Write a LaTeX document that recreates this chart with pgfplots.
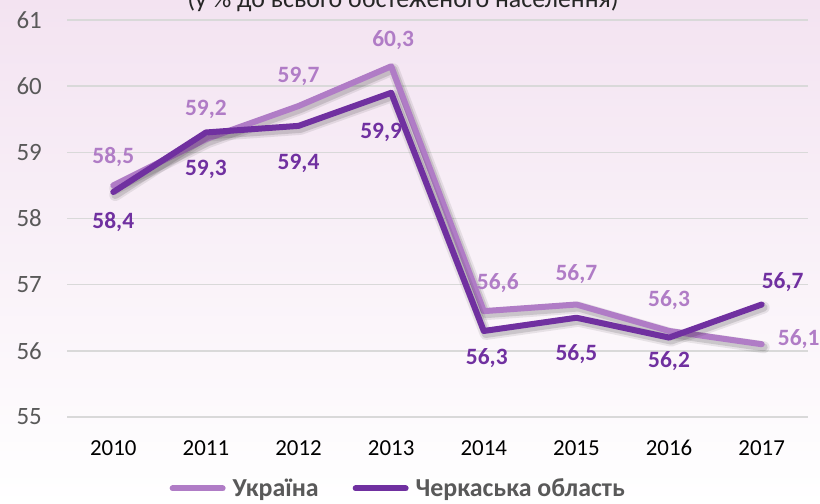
\documentclass[border=0pt]{standalone}
\usepackage{pgfplots}
\pgfplotsset{compat=1.18}
\usepackage{fontspec}
\setmainfont{Carlito}

\definecolor{ukr}{HTML}{B07CC6}
\definecolor{che}{HTML}{7030A0}
\definecolor{bgtop}{HTML}{F3E3F1}
\definecolor{tickc}{HTML}{595959}
\definecolor{gridc}{HTML}{D9D9D9}

% label style: colour, anchor, dx, dy (bp)
\pgfplotsset{
  lab/.style n args={4}{
    draw=none, forget plot,
    nodes near coords,
    point meta=explicit symbolic,
    nodes near coords style={anchor=#2, xshift=#3bp, yshift=#4bp, inner sep=0pt,
        font=\bfseries\fontsize{23.5}{28}\selectfont, text=#1}},
  shadow/.style={black, opacity=#1, line cap=round, line join=round,
    xshift=2bp, yshift=-3bp, forget plot},
  ser/.style={#1, line width=6bp, line cap=round, line join=round, forget plot},
}

\begin{document}
\begin{tikzpicture}
\useasboundingbox (0,0) rectangle (820bp,504bp);
\shade[top color=bgtop, bottom color=white] (0,0) rectangle (820bp,504bp);
\node[anchor=base, font=\fontsize{26}{31}\selectfont, text=black!85] at (403bp,496bp)
  {(у \% до всього обстеженого населення)};

\begin{axis}[
    at={(67bp,87bp)}, anchor=south west,
    width=741bp, height=397bp, scale only axis,
    clip=false,
    xmin=-0.5, xmax=7.5,
    ymin=55, ymax=61,
    xtick={0,...,7},
    xticklabels={2010,2011,2012,2013,2014,2015,2016,2017},
    ytick={55,...,61},
    ymajorgrids,
    grid style={gridc, line width=1.5bp},
    axis line style={draw=none},
    major tick length=0pt,
    /pgf/number format/assume math mode=true,
    yticklabel style={font=\fontsize{25}{30}\selectfont, text=tickc, inner sep=0pt, xshift=-25bp},
    xticklabel style={font=\fontsize{23}{28}\selectfont, text=black, inner sep=0pt, yshift=-23bp},
    legend style={at={(0.447,-0.180)}, anchor=center, draw=none, fill=none,
        legend columns=2, font=\bfseries\fontsize{26}{31}\selectfont, text=tickc,
        /tikz/every odd column/.append style={column sep=5bp},
        /tikz/every even column/.append style={column sep=32bp},
        inner sep=0pt},
    legend image code/.code={\draw[line width=6bp, line cap=round] (0bp,0bp) -- (50bp,0bp);},
]
\addlegendimage{ukr}
\addlegendentry{Україна}
\addlegendimage{che}
\addlegendentry{Черкаська область}

% Україна
\addplot[shadow=0.08, line width=12bp] coordinates {(0,58.5) (1,59.2) (2,59.7) (3,60.3) (4,56.6) (5,56.7) (6,56.3) (7,56.1)};
\addplot[shadow=0.12, line width=8bp] coordinates {(0,58.5) (1,59.2) (2,59.7) (3,60.3) (4,56.6) (5,56.7) (6,56.3) (7,56.1)};
\addplot[ser=ukr] coordinates {(0,58.5) (1,59.2) (2,59.7) (3,60.3) (4,56.6) (5,56.7) (6,56.3) (7,56.1)};

% Черкаська область
\addplot[shadow=0.08, line width=12bp] coordinates {(0,58.4) (1,59.3) (2,59.4) (3,59.9) (4,56.3) (5,56.5) (6,56.2) (7,56.7)};
\addplot[shadow=0.12, line width=8bp] coordinates {(0,58.4) (1,59.3) (2,59.4) (3,59.9) (4,56.3) (5,56.5) (6,56.2) (7,56.7)};
\addplot[ser=che] coordinates {(0,58.4) (1,59.3) (2,59.4) (3,59.9) (4,56.3) (5,56.5) (6,56.2) (7,56.7)};

% data labels
\addplot[lab={ukr}{base}{0}{22}] coordinates {(0,58.5) [{58,5}]};
\addplot[lab={ukr}{base}{0}{24}] coordinates {(1,59.2) [{59,2}] (2,59.7) [{59,7}] (5,56.7) [{56,7}] (6,56.3) [{56,3}]};
\addplot[lab={ukr}{base}{2}{20}] coordinates {(3,60.3) [{60,3}]};
\addplot[lab={ukr}{base}{14}{22}] coordinates {(4,56.6) [{56,6}]};
\addplot[lab={ukr}{west}{16}{5}] coordinates {(7,56.1) [{56,1}]};

\addplot[lab={che}{north}{0}{-20}] coordinates {(0,58.4) [{58,4}]};
\addplot[lab={che}{north}{0}{-27}] coordinates {(1,59.3) [{59,3}] (5,56.5) [{56,5}]};
\addplot[lab={che}{north}{0}{-28}] coordinates {(2,59.4) [{59,4}]};
\addplot[lab={che}{north}{-10}{-30}] coordinates {(3,59.9) [{59,9}]};
\addplot[lab={che}{north}{3}{-17}] coordinates {(4,56.3) [{56,3}]};
\addplot[lab={che}{north}{0}{-14}] coordinates {(6,56.2) [{56,2}]};
\addplot[lab={che}{base}{21}{16}] coordinates {(7,56.7) [{56,7}]};

\end{axis}
\end{tikzpicture}
\end{document}
